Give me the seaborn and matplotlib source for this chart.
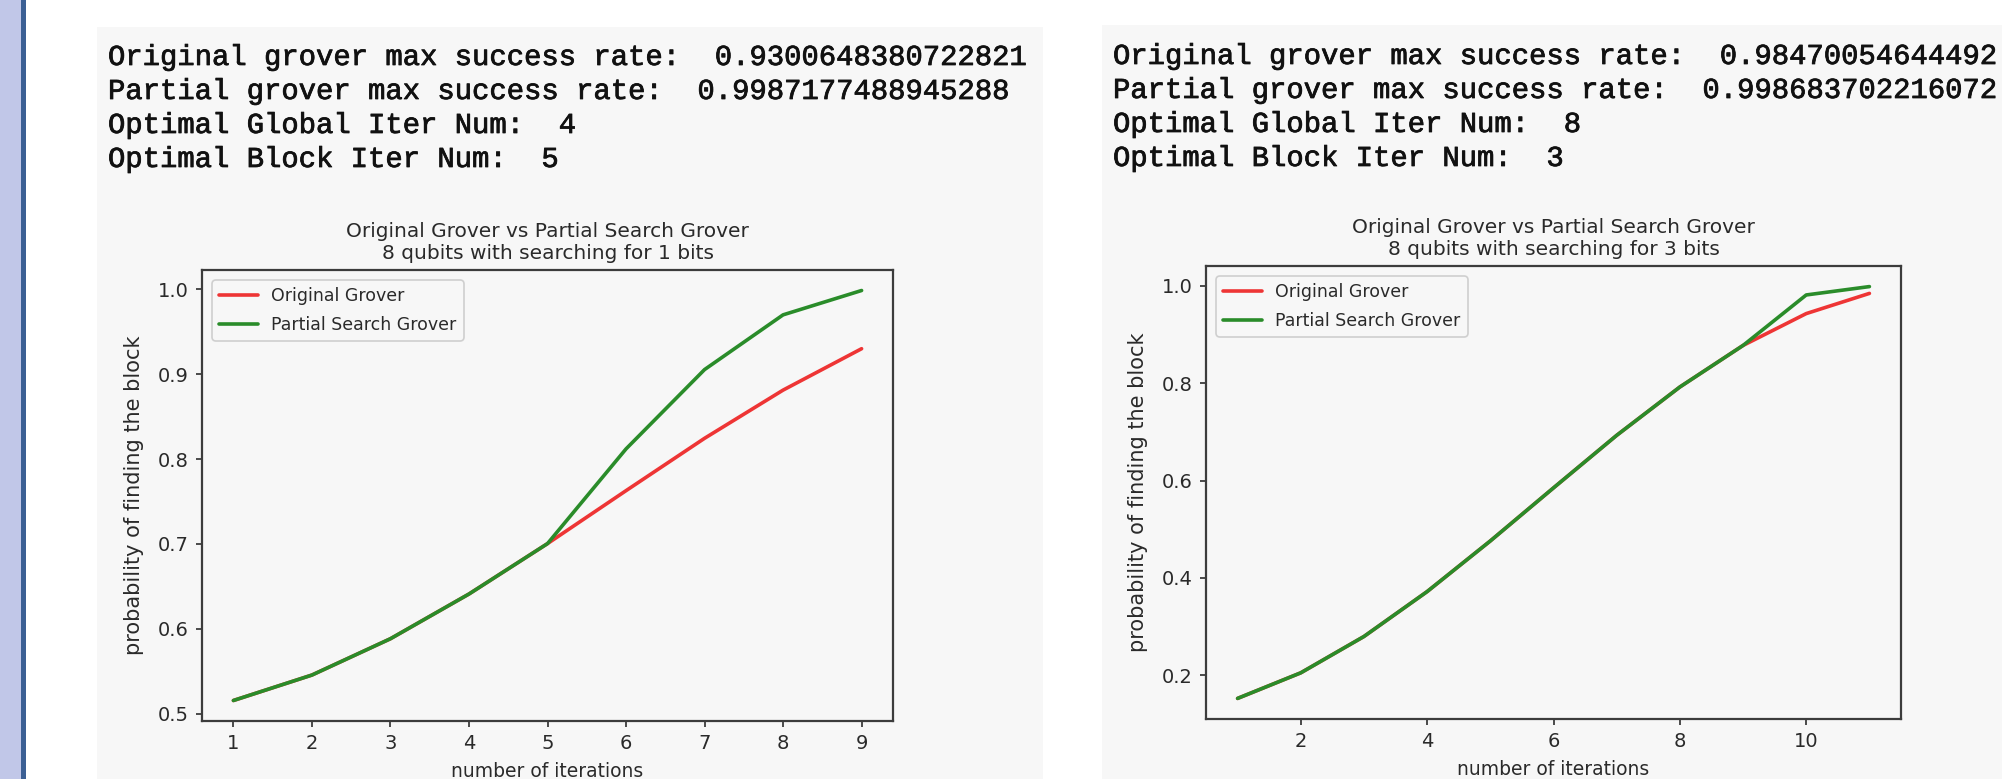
import matplotlib
matplotlib.use("Agg")
import matplotlib.pyplot as plt
from matplotlib.patches import Rectangle
import matplotlib.patheffects as pe
import seaborn as sns

# ---------------- data ----------------
iters_1 = [1, 2, 3, 4, 5, 6, 7, 8, 9]
original_1 = [0.5155, 0.5455, 0.5883, 0.6410, 0.7004, 0.7628, 0.8245, 0.8813, 0.9301]
partial_1 = [0.5155, 0.5455, 0.5883, 0.6410, 0.7004, 0.8120, 0.9055, 0.9700, 0.9987]

iters_3 = [1, 2, 3, 4, 5, 6, 7, 8, 9, 10, 11]
original_3 = [0.1521, 0.2047, 0.2794, 0.3717, 0.4758, 0.5849, 0.6929, 0.7923, 0.8777, 0.9432, 0.9847]
partial_3 = [0.1521, 0.2047, 0.2794, 0.3717, 0.4758, 0.5849, 0.6929, 0.7923, 0.8777, 0.9815, 0.9987]

text_left = [
    "Original grover max success rate:  0.9300648380722821",
    "Partial grover max success rate:  0.9987177488945288",
    "Optimal Global Iter Num:  4",
    "Optimal Block Iter Num:  5",
]
text_right = [
    "Original grover max success rate:  0.98470054644492",
    "Partial grover max success rate:  0.998683702216072",
    "Optimal Global Iter Num:  8",
    "Optimal Block Iter Num:  3",
]
title_main = "Original Grover vs Partial Search Grover"
subtitles = ["8 qubits with searching for 1 bits", "8 qubits with searching for 3 bits"]
label_orig = "Original Grover"
label_part = "Partial Search Grover"
xlabel = "number of iterations"
ylabel = "probability of finding the block"

# ---------------- style ----------------
sns.set_style("ticks")
plt.rcParams["font.family"] = ["DejaVu Sans"]

W, H = 2002, 779
PANEL = "#f7f7f7"
RED = "#ee3535"
GREEN = "#2a8c2a"
SPINE = "#3c3c3c"
TXT = "#2a2a2a"

fig = plt.figure(figsize=(W / 100, H / 100), dpi=100)
fig.patch.set_facecolor("white")


def rect(x0, y0, x1, y1, color):
    fig.add_artist(Rectangle((x0 / W, 1 - y1 / H), (x1 - x0) / W, (y1 - y0) / H,
                             transform=fig.transFigure, facecolor=color,
                             edgecolor="none", zorder=0))


# notebook chrome
rect(0, 0, 21, H, "#c1c7e8")
rect(21, 0, 26, H, "#3b5f94")
rect(97, 27, 1043, H, PANEL)
rect(1102, 25, W, H, PANEL)

# printed text
mono = ["Liberation Mono", "DejaVu Sans Mono"]
thick = [pe.withStroke(linewidth=0.55, foreground="#111111")]
for i, line in enumerate(text_left):
    fig.text(108 / W, 1 - (65 + 34 * i) / H, line, family=mono,
             fontsize=20.8, color="#111111", va="baseline", ha="left", path_effects=thick)
for i, line in enumerate(text_right):
    fig.text(1113 / W, 1 - (64 + 34 * i) / H, line, family=mono,
             fontsize=20.8, color="#111111", va="baseline", ha="left", path_effects=thick)


def make_axes(x0, y0, x1, y1):
    ax = fig.add_axes([x0 / W, 1 - y1 / H, (x1 - x0) / W, (y1 - y0) / H])
    ax.set_facecolor(PANEL)
    return ax


ax1 = make_axes(202, 270, 893, 721)
ax2 = make_axes(1206, 266, 1901, 719)

for ax, xs, yo, yp, sub in [(ax1, iters_1, original_1, partial_1, subtitles[0]),
                            (ax2, iters_3, original_3, partial_3, subtitles[1])]:
    sns.lineplot(x=xs, y=yo, color=RED, linewidth=2.6, label=label_orig, ax=ax)
    sns.lineplot(x=xs, y=yp, color=GREEN, linewidth=2.6, label=label_part, ax=ax)
    ax.set_title(title_main + "\n" + sub, fontsize=14.5, color=TXT, pad=8)
    ax.set_xlabel(xlabel, fontsize=13.5, color=TXT, labelpad=6)
    ax.set_ylabel(ylabel, fontsize=15, color=TXT, labelpad=10)
    for s in ax.spines.values():
        s.set_visible(True)
        s.set_color(SPINE)
        s.set_linewidth(1.6)
    ax.tick_params(axis="both", direction="out", length=4.5, width=1.3, color=SPINE,
                   labelsize=14, labelcolor=TXT, pad=5)
    leg = ax.legend(loc="upper left", fontsize=12.5, frameon=True, fancybox=True,
                    handlelength=2.2, borderaxespad=0.6, labelspacing=0.6)
    leg.get_frame().set_facecolor(PANEL)
    leg.get_frame().set_edgecolor("#cfcfcf")
    leg.get_frame().set_alpha(1)
    leg.get_frame().set_linewidth(1.2)
    for t in leg.get_texts():
        t.set_color(TXT)

ax1.set_xticks(iters_1)
ax1.set_yticks([0.5, 0.6, 0.7, 0.8, 0.9, 1.0])
ax2.set_xticks([2, 4, 6, 8, 10])
ax2.set_yticks([0.2, 0.4, 0.6, 0.8, 1.0])

fig.savefig("out.png", dpi=100, facecolor=fig.get_facecolor())
